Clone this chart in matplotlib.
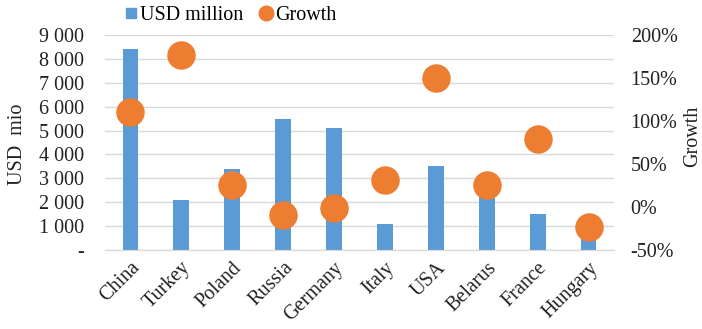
import matplotlib
matplotlib.use("Agg")
import matplotlib.pyplot as plt
from matplotlib.ticker import FuncFormatter, MultipleLocator
from matplotlib.lines import Line2D
import numpy as np

countries = ["China", "Turkey", "Poland", "Russia", "Germany",
             "Italy", "USA", "Belarus", "France", "Hungary"]
usd_million = [8400, 2100, 3400, 5500, 5100, 1100, 3500, 2800, 1500, 800]
growth_pct = [110, 177, 26, -9, -1, 31, 150, 26, 79, -23]

BLUE = "#5B9BD5"
ORANGE = "#ED7D31"
GRID = "#D9D9D9"

plt.rcParams["font.family"] = ["Liberation Serif", "DejaVu Serif"]
plt.rcParams["font.size"] = 14.5

W, H = 702, 329
fig = plt.figure(figsize=(W / 100, H / 100), dpi=100)
ax = fig.add_axes([105 / W, 1 - 250 / H, (614 - 105) / W, (250 - 35) / H])
ax2 = ax.twinx()

x = np.arange(len(countries))
ax.bar(x, usd_million, width=0.31, color=BLUE, zorder=2)
ax2.scatter(x, growth_pct, s=420, color=ORANGE, zorder=3, linewidths=0)

ax.set_ylim(0, 9000)
ax.yaxis.set_major_locator(MultipleLocator(1000))
ax.yaxis.set_major_formatter(FuncFormatter(
    lambda v, p: "-" if v == 0 else f"{int(v):,}".replace(",", " ")))
ax.grid(axis="y", color=GRID, linewidth=1, zorder=0)
ax.set_axisbelow(True)
ax.set_xlim(-0.5, len(countries) - 0.5)
ax.set_xticks(x)
ax.set_xticklabels(countries, rotation=45, ha="right", rotation_mode="anchor")

ax2.set_ylim(-50, 200)
ax2.yaxis.set_major_locator(MultipleLocator(50))
ax2.yaxis.set_major_formatter(FuncFormatter(lambda v, p: f"{int(v)}%"))

for a in (ax, ax2):
    for s in ("top", "left", "right"):
        a.spines[s].set_visible(False)
    a.spines["bottom"].set_color(GRID)
    a.tick_params(length=0, colors="#222222")
ax.tick_params(axis="y", pad=15)
ax2.tick_params(axis="y", pad=12)
ax.tick_params(axis="x", pad=6)

fig.text(17 / W, 1 - 144 / H, "USD  mio", rotation=90, ha="center", va="center",
         color="#222222")
fig.text(693 / W, 1 - 136 / H, "Growth", rotation=90, ha="center", va="center",
         color="#222222")

handles = [
    Line2D([], [], marker="s", linestyle="none", color=BLUE, markersize=7),
    Line2D([], [], marker="o", linestyle="none", color=ORANGE, markersize=10.5),
]
fig.legend(handles, ["USD million", "Growth"], loc="center",
           bbox_to_anchor=(230 / W, 1 - 15 / H), ncol=2, frameon=False,
           handletextpad=0.1, columnspacing=0.8, handlelength=0.7,
           fontsize=14.5)

fig.savefig("out.png", dpi=100)
